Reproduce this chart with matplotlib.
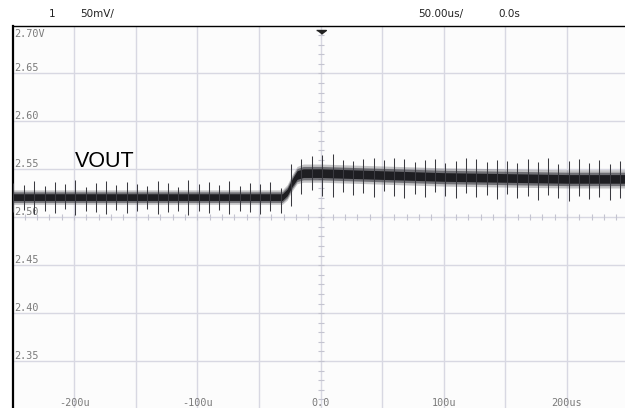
import numpy as np
import matplotlib
matplotlib.use("Agg")
import matplotlib.pyplot as plt

# Scope settings shown in the header
channel = "1"
volts_per_div = "50mV/"
time_per_div = "50.00us/"
trig_pos = "0.0s"

# Grid labels
y_levels = [2.70, 2.65, 2.60, 2.55, 2.50, 2.45, 2.40, 2.35]
y_labels = ["2.70V", "2.65", "2.60", "2.55", "2.50", "2.45", "2.40", "2.35"]
x_ticks = [-200, -100, 0, 100, 200]
x_labels = ["-200u", "-100u", "0.0", "100u", "200us"]

# VOUT trace: centre line (us, V) and noise envelope half-widths (V)
trace_t = [-250, -31, -27, -23, -19, -14, 0, 50, 100, 150, 200, 250]
trace_v = [2.521, 2.521, 2.526, 2.536, 2.544, 2.546, 2.546, 2.544, 2.542, 2.541, 2.540, 2.540]
band_core = [0.0035, 0.0035, 0.0035, 0.004, 0.0045, 0.0045, 0.0045, 0.0045, 0.0045, 0.0045, 0.0045, 0.0045]
band_fuzz = [0.0075, 0.0075, 0.008, 0.0085, 0.009, 0.0095, 0.0095, 0.0095, 0.0095, 0.0095, 0.0095, 0.0095]

# Switching spikes riding on the output (us, top V, bottom V)
spike_t = [-249.2, -240.6, -232.5, -223.9, -215.8, -207.7, -199.1, -190.5, -182.4, -174.3,
           -165.7, -157.2, -149.0, -140.9, -132.3, -123.8, -115.6, -107.5, -98.9, -90.4,
           -82.2, -74.1, -65.6, -57.0, -48.9, -40.7, -32.2, -23.6, -15.5, -7.3,
           1.2, 9.8, 17.9, 26.1, 34.6, 43.2, 51.3, 59.4, 68.0, 76.5,
           84.7, 92.8, 101.4, 109.9, 118.1, 126.2, 134.8, 143.3, 151.5, 159.6,
           168.2, 176.7, 184.8, 193.0, 201.5, 210.1, 218.2, 226.4, 234.9, 243.5]
spike_hi = [2.536, 2.534, 2.538, 2.533, 2.537, 2.535, 2.539, 2.532, 2.536, 2.538,
            2.534, 2.537, 2.535, 2.533, 2.538, 2.536, 2.532, 2.539, 2.535, 2.537,
            2.534, 2.538, 2.533, 2.536, 2.535, 2.537, 2.531, 2.556, 2.561, 2.564,
            2.565, 2.566, 2.560, 2.559, 2.561, 2.562, 2.560, 2.562, 2.561, 2.558,
            2.560, 2.561, 2.557, 2.559, 2.562, 2.561, 2.558, 2.560, 2.559, 2.557,
            2.561, 2.558, 2.562, 2.556, 2.559, 2.561, 2.557, 2.560, 2.556, 2.559]
spike_lo = [2.505, 2.508, 2.503, 2.507, 2.504, 2.509, 2.502, 2.506, 2.505, 2.503,
            2.508, 2.504, 2.506, 2.509, 2.503, 2.505, 2.507, 2.502, 2.506, 2.504,
            2.508, 2.503, 2.506, 2.505, 2.503, 2.507, 2.504, 2.512, 2.524, 2.528,
            2.522, 2.521, 2.526, 2.523, 2.525, 2.521, 2.527, 2.522, 2.520, 2.524,
            2.521, 2.526, 2.522, 2.520, 2.525, 2.521, 2.523, 2.519, 2.524, 2.520,
            2.522, 2.518, 2.523, 2.520, 2.517, 2.522, 2.519, 2.521, 2.518, 2.520]

grid_col = "#d8d8e2"
label_col = "#7a7a7a"

fig = plt.figure(figsize=(6.25, 4.08), dpi=100)
fig.patch.set_facecolor("white")
ax = fig.add_axes([12.5 / 625, -1 / 408, 616 / 625, 383.5 / 408])
ax.set_xlim(-250, 250)
ax.set_ylim(2.30, 2.70)
ax.set_facecolor("#fcfcfc")
ax.set_xticks([])
ax.set_yticks([])
for s in ("right", "bottom"):
    ax.spines[s].set_visible(False)
ax.spines["left"].set_linewidth(1.6)
ax.spines["top"].set_linewidth(1.0)

# graticule
for t in range(-200, 250, 50):
    ax.axvline(t, color=grid_col, lw=1.0, zorder=0)
for k in range(1, 8):
    ax.axhline(2.30 + 0.05 * k, color=grid_col, lw=1.0, zorder=0)
# minor ticks along the centre cross
tx = np.arange(-240, 250, 10)
ax.plot(tx, np.full(len(tx), 2.50), ls="none", marker="|",
        ms=4, mew=0.8, color="#c4c4d0", zorder=1)
ty = 2.30 + 0.01 * np.arange(1, 40)
ax.plot(np.zeros(len(ty)), ty, ls="none", marker="_",
        ms=5, mew=0.8, color="#c4c4d0", zorder=1)

# trace: layered envelope so the edges fade like a persistence display
tv = np.array(trace_v)
core = np.array(band_core)
fuzz = np.array(band_fuzz)
mid = (core + fuzz) / 2
ax.fill_between(trace_t, tv - fuzz, tv + fuzz, color="#5a5a60", alpha=0.35, lw=0, zorder=3)
ax.fill_between(trace_t, tv - mid, tv + mid, color="#3a3a40", alpha=0.6, lw=0, zorder=3)
ax.fill_between(trace_t, tv - core, tv + core, color="#1e1e22", lw=0, zorder=4)
ax.vlines(spike_t, spike_lo, spike_hi, color="#3a3a40", lw=0.75, zorder=5)

# grid labels
ytr = ax.get_yaxis_transform()
for v, lab in zip(y_levels, y_labels):
    if v == 2.70:
        ax.text(0.003, v - 0.004, lab, transform=ytr, ha="left", va="top",
                family="DejaVu Sans Mono", fontsize=7.3, color=label_col)
    else:
        ax.text(0.003, v + 0.0005, lab, transform=ytr, ha="left", va="bottom",
                family="DejaVu Sans Mono", fontsize=7.3, color=label_col)
for t, lab in zip(x_ticks, x_labels):
    ax.text(t, 2.3015, lab, ha="center", va="bottom",
            family="DejaVu Sans Mono", fontsize=7.3, color=label_col)

# trigger marker
ax.plot(0, 2.6955, marker=[(-1.3, 0), (1.3, 0), (0, -1)], ms=7, color="#222222",
        clip_on=False, zorder=6)

ax.text(-199.3, 2.5525, "VOUT", family="Liberation Sans", fontsize=15.5,
        ha="left", va="baseline", color="black", zorder=7)

# header
hy = 1 - 14 / 408
fig.text(52 / 625, hy, channel, ha="center", va="center", fontsize=7.5, color="#222222")
fig.text(80 / 625, hy, volts_per_div, ha="left", va="center", fontsize=7.5, color="#222222")
fig.text(418 / 625, hy, time_per_div, ha="left", va="center", fontsize=7.5, color="#222222")
fig.text(498 / 625, hy, trig_pos, ha="left", va="center", fontsize=7.5, color="#222222")

fig.savefig("out.png", dpi=100, facecolor="white")
